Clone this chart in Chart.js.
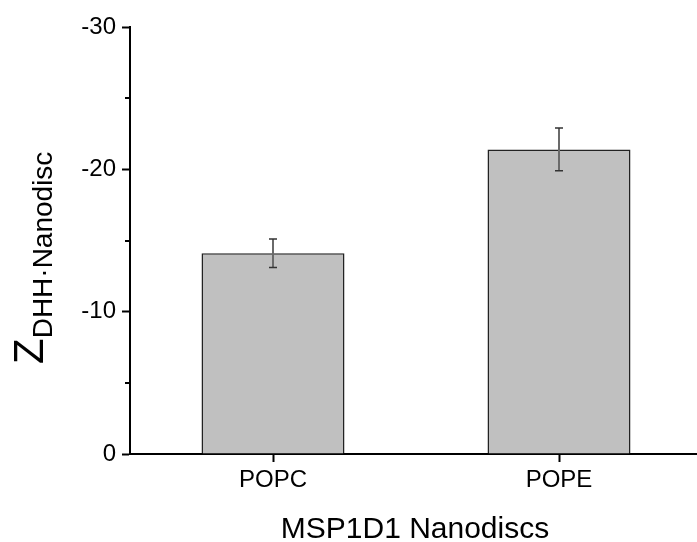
<!DOCTYPE html>
<html lang="en">
<head>
<meta charset="UTF-8">
<title>Z DHH Nanodisc</title>
<style>
  html, body { margin: 0; padding: 0; background: #fff; overflow: hidden; }
  #wrap { width: 697px; height: 542px; overflow: hidden; }
</style>
</head>
<body>
<div id="wrap"><canvas id="myChart" width="702" height="542"></canvas></div>
<script src="https://cdn.jsdelivr.net/npm/chart.js"></script>
<script>
// data
const categories = ['POPC', 'POPE'];
const values = [-14.1, -21.4];
const errors = [1.0, 1.5];
const majorTicks = [0, -10, -20, -30];
const minorTicks = [-5, -15, -25];

const FONT = "'Liberation Sans', Arial, sans-serif";

// error bars, minor ticks and the axis titles
const extras = {
  id: 'extras',
  afterDatasetsDraw(chart) {
    const ctx = chart.ctx;
    const x = chart.scales.x, y = chart.scales.y;
    ctx.save();
    // error bars
    values.forEach((v, i) => {
      const cx = x.getPixelForValue(i);
      const top = y.getPixelForValue(v - errors[i]);
      const bot = y.getPixelForValue(v + errors[i]);
      ctx.strokeStyle = '#6a6a6a';
      ctx.lineWidth = 2;
      ctx.beginPath();
      ctx.moveTo(cx, top); ctx.lineTo(cx, bot);
      ctx.stroke();
      ctx.strokeStyle = '#333';
      ctx.lineWidth = 1.5;
      ctx.beginPath();
      ctx.moveTo(cx - 4, top); ctx.lineTo(cx + 4, top);
      ctx.moveTo(cx - 4, bot); ctx.lineTo(cx + 4, bot);
      ctx.stroke();
    });
    ctx.restore();
  },
  afterDraw(chart) {
    const ctx = chart.ctx;
    const y = chart.scales.y;
    const left = chart.chartArea.left;
    ctx.save();
    // minor ticks
    ctx.strokeStyle = '#000';
    ctx.lineWidth = 2;
    minorTicks.forEach(t => {
      const py = Math.round(y.getPixelForValue(t));
      ctx.beginPath();
      ctx.moveTo(left - 5, py); ctx.lineTo(left, py);
      ctx.stroke();
    });
    // y title: Z with subscript, rotated
    ctx.fillStyle = '#000';
    ctx.translate(43, 364);
    ctx.rotate(-Math.PI / 2);
    ctx.textBaseline = 'alphabetic';
    ctx.textAlign = 'left';
    ctx.font = '42px ' + FONT;
    ctx.fillText('Z', 0, 0);
    const zw = ctx.measureText('Z').width;
    ctx.font = '28px ' + FONT;
    ctx.fillText('DHH\u00B7Nanodisc', zw, 9);
    ctx.restore();
    // x title
    ctx.save();
    ctx.fillStyle = '#000';
    ctx.font = '30px ' + FONT;
    ctx.textAlign = 'center';
    ctx.textBaseline = 'alphabetic';
    ctx.fillText('MSP1D1 Nanodiscs', 415, 538);
    ctx.restore();
  }
};

const data = {
  labels: categories,
  datasets: [{
    data: values,
    backgroundColor: '#c0c0c0',
    borderColor: '#222',
    borderWidth: 1.5,
    borderSkipped: 'start',
    barPercentage: 0.5,
    categoryPercentage: 1.0
  }]
};

const config = {
  type: 'bar',
  data,
  options: {
    responsive: false,
    animation: false,
    layout: { padding: { top: 27, right: 0, left: 0, bottom: 0 } },
    plugins: { legend: { display: false }, tooltip: { enabled: false } },
    scales: {
      x: {
        offset: true,
        grid: { display: true, drawOnChartArea: false, offset: false, tickLength: 8, tickColor: '#000', tickWidth: 2 },
        border: { display: true, color: '#000', width: 2 },
        ticks: { color: '#000', font: { family: FONT, size: 24 }, padding: 4 },
        afterFit(scale) { scale.height = 88; }
      },
      y: {
        min: -30,
        max: 0,
        reverse: true,
        afterBuildTicks(scale) { scale.ticks = majorTicks.map(v => ({ value: v })); },
        grid: { display: true, drawOnChartArea: false, tickLength: 8, tickColor: '#000', tickWidth: 2 },
        border: { display: true, color: '#000', width: 2 },
        ticks: { color: '#000', font: { family: FONT, size: 24 }, padding: 6 },
        afterFit(scale) { scale.width = 130; }
      }
    }
  },
  plugins: [extras]
};

const myChart = new Chart(document.getElementById('myChart'), config);
</script>
</body>
</html>
